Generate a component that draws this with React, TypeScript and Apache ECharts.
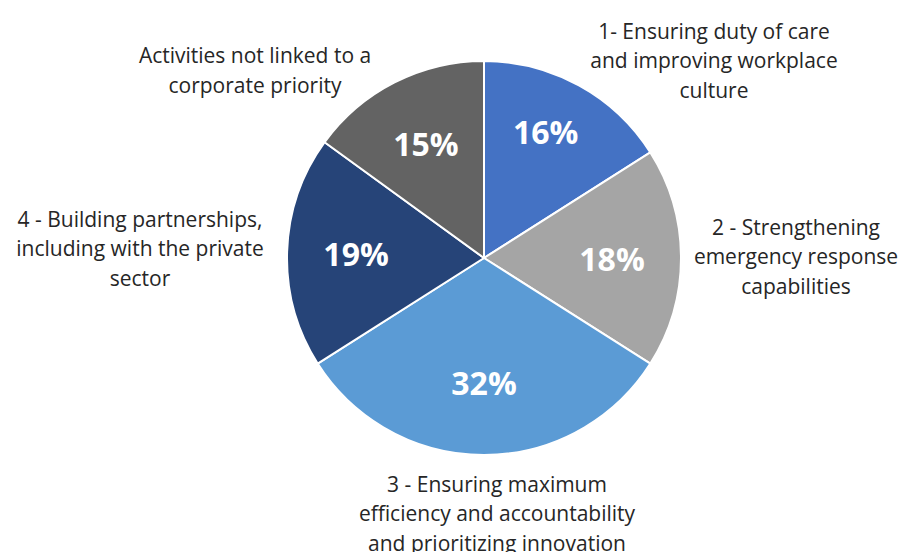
import React, { useEffect, useRef } from "react";
import * as echarts from "echarts";

// Share of activities by corporate priority (percent)
const categories = [
  "1- Ensuring duty of care\nand improving workplace\nculture",
  "2 - Strengthening\nemergency response\ncapabilities",
  "3 - Ensuring maximum\nefficiency and accountability\nand prioritizing innovation",
  "4 - Building partnerships,\nincluding with the private\nsector",
  "Activities not linked to a\ncorporate priority",
];
const shares = [16, 18, 32, 19, 15];
const colors = ["#4472C4", "#A5A5A5", "#5B9BD5", "#264478", "#636363"];

// Centre points of the category labels placed around the pie
const labelAnchors: [number, number][] = [
  [714, 60],
  [796, 256],
  [497, 513],
  [140, 248],
  [255, 70],
];
// Small vertical nudges for the percentage labels
const valueNudge = [-14, 0, -4, 0, 0];

const CX = 484;
const CY = 258;
const R = 197;

export default function App() {
  const ref = useRef<HTMLDivElement>(null);

  useEffect(() => {
    if (!ref.current) return;
    const chart = echarts.init(ref.current, undefined, { renderer: "svg" });
    const slices = categories.map((name, i) => ({
      name,
      value: shares[i],
      itemStyle: { color: colors[i] },
    }));
    const plain = categories.map((name, i) => ({ name, value: shares[i] }));
    chart.setOption({
      animation: false,
      backgroundColor: "#ffffff",
      series: [
        {
          type: "pie",
          center: [CX, CY],
          radius: [0, R],
          startAngle: 90,
          clockwise: true,
          data: slices,
          itemStyle: { borderColor: "#ffffff", borderWidth: 2 },
          labelLine: { show: false },
          label: {
            show: true,
            position: "outside",
            formatter: "{b}",
            fontFamily: "Open Sans",
            fontSize: 21,
            lineHeight: 29.5,
            color: "#262626",
            align: "center",
            overflow: "none",
            width: 340,
          },
          labelLayout: (params: any) => {
            const [x, y] = labelAnchors[params.dataIndex];
            return { x, y, align: "center", verticalAlign: "middle" };
          },
          emphasis: { disabled: true },
        },
        {
          // Transparent overlay carrying the percentage labels
          type: "pie",
          center: [CX, CY],
          radius: [0, 2 * 125],
          startAngle: 90,
          clockwise: true,
          silent: true,
          data: plain,
          itemStyle: { color: "rgba(0,0,0,0)", borderWidth: 0 },
          labelLine: { show: false },
          label: {
            show: true,
            position: "inside",
            formatter: "{c}%",
            fontFamily: "Open Sans",
            fontWeight: "bold",
            fontSize: 32,
            color: "#ffffff",
          },
          labelLayout: (params: any) => ({ dy: valueNudge[params.dataIndex] }),
          emphasis: { disabled: true },
        },
      ],
    });
    return () => chart.dispose();
  }, []);

  return (
    <div
      ref={ref}
      style={{ position: "fixed", left: 0, top: 0, width: 904, height: 552 }}
    />
  );
}
